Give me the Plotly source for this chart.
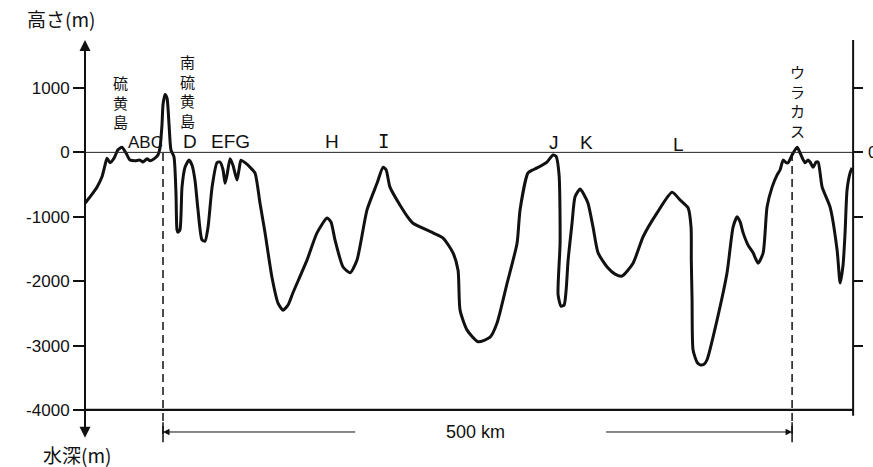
import plotly.graph_objects as go

# ---- data: horizontal distance (km, from left axis) and elevation (m) ----
dist_km = [0, 4.0, 9.5, 13.5, 15.9, 17.5, 19.9, 23.1, 26.2, 29.4,
           32.6, 35.8, 39.7, 43.7, 46.1, 49.3, 51.7, 55.6, 58.0, 59.6,
           61.2, 62.0, 63.6, 65.2, 66.8, 68.3, 70.7, 72.3, 73.1, 73.9,
           75.5, 77.1, 79.5, 82.7, 85.1, 87.4, 89.8, 93.0, 95.4, 97.8,
           101.0, 104.9, 107.3, 109.7, 111.3, 112.9, 115.3, 117.6, 120.8, 122.4,
           124.0, 127.2, 131.2, 135.1, 139.1, 143.1, 148.6, 153.4, 157.4, 161.4,
           165.3, 176.5, 184.4, 192.4, 195.5, 198.7, 205.1, 210.7, 216.2, 224.2,
           232.1, 236.9, 239.3, 242.4, 250.4, 258.3, 260.7, 276.6, 284.6, 292.5,
           296.5, 298.1, 303.7, 312.4, 322.0, 327.5, 335.5, 343.4, 345.8, 352.1,
           356.1, 359.3, 367.2, 372.0, 374.4, 376.8, 377.6, 376.0, 378.4, 380.8,
           382.4, 384.0, 387.1, 389.5, 393.5, 396.7, 399.8, 403.8, 407.8, 415.0,
           421.3, 426.9, 435.6, 443.6, 454.7, 466.6, 473.0, 479.3, 481.7, 481.9,
           482.5, 483.3, 486.5, 488.9, 492.0, 494.4, 502.4, 510.3, 515.1, 518.3,
           520.7, 523.1, 527.0, 531.0, 535.0, 539.0, 542.1, 546.1, 550.1, 552.5,
           554.9, 557.3, 558.8, 562.0, 566.0, 568.4, 572.3, 574.7, 576.3, 578.7,
           581.1, 582.7, 585.9, 592.2, 597.8, 600.2, 602.5, 604.1, 605.7, 608.1, 609.7]
elev_m = [-790, -690, -540, -380, -200, -90, -160, -90, 40, 80,
          -10, -120, -130, -120, -150, -100, -130, -90, -40, 70,
          430, 740, 900, 840, 430, 40, -70, -630, -1200, -1240,
          -1200, -540, -230, -120, -200, -430, -890, -1360, -1380, -1160,
          -540, -160, -150, -270, -480, -350, -100, -200, -430, -270,
          -120, -160, -230, -320, -790, -1250, -1940, -2340, -2450, -2370,
          -2180, -1670, -1250, -1020, -1080, -1360, -1780, -1870, -1670, -890,
          -480, -230, -270, -540, -820, -1050, -1100, -1250, -1330, -1560,
          -1830, -2450, -2760, -2940, -2870, -2650, -2030, -1410, -890, -320,
          -270, -240, -150, -40, -60, -350, -1410, -2210, -2390, -2370,
          -2140, -1670, -1100, -690, -570, -660, -790, -1160, -1560, -1780,
          -1890, -1920, -1720, -1310, -940, -620, -740, -860, -1160, -1670,
          -2290, -3070, -3260, -3300, -3290, -3220, -2600, -1870, -1160, -1000,
          -1080, -1250, -1440, -1560, -1720, -1560, -850, -540, -350, -270,
          -120, -160, -160, -40, 80, -10, -160, -120, -150, -230,
          -150, -150, -540, -850, -1520, -2030, -1750, -1250, -580, -320, -240]

tick_vals = [1000, 0, -1000, -2000, -3000, -4000]
tick_text = ["1000", "0", "-1000", "-2000", "-3000", "-4000"]
right_tick_vals = [1000, 0, -1000, -2000, -3000]

# letter labels (name, km, m)
letter_names = ["ABC", "D", "EFG", "H", "I", "J", "K", "L"]
letter_km = [47.7, 83.5, 115.3, 196.3, 236.9, 372.8, 398.3, 471.4]
letter_m = [160, 175, 175, 175, 175, 160, 160, 130]

# vertical island names (km position, centre elevation of the stacked label)
island_names = ["硫黄島", "南硫黄島", "ウラカス"]
island_km = [28.6, 81.1, 566.0]
island_mid_m = [783, 954, 798]

scale_start_km = 62.0   # 南硫黄島
scale_end_km = 562.0    # ウラカス
scale_label = "500 km"

X_MAX = 612
Y_MIN, Y_MAX = -4544, 1745

LAT = "Liberation Sans Narrow, Liberation Sans, Arial, sans-serif"
CJK = "Noto Sans CJK JP"

fig = go.Figure()
fig.add_trace(go.Scatter(x=dist_km, y=elev_m, mode="lines",
                         line=dict(color="#111111", width=3, shape="spline", smoothing=0.6),
                         hoverinfo="skip", showlegend=False))

shapes = []
# sea level line
shapes.append(dict(type="line", xref="x", yref="y", x0=0, x1=X_MAX, y0=0, y1=0,
                   line=dict(color="#222", width=1)))
# bottom base line at -4000
shapes.append(dict(type="line", xref="x", yref="y", x0=0, x1=610.5, y0=-4000, y1=-4000,
                   line=dict(color="#111", width=2.2)))
# right axis line
shapes.append(dict(type="line", xref="x", yref="y", x0=610.5, x1=610.5, y0=-4090, y1=Y_MAX,
                   line=dict(color="#111", width=2)))
# dashed verticals
for xk in [scale_start_km, scale_end_km]:
    shapes.append(dict(type="line", xref="x", yref="y", x0=xk, x1=xk, y0=-10, y1=-4380,
                       line=dict(color="#111", width=1.5, dash="8px,5px")))
    shapes.append(dict(type="line", xref="x", yref="y", x0=xk, x1=xk, y0=-4190, y1=-4500,
                       line=dict(color="#111", width=1.5)))

ann = []
# left axis with arrows
ann.append(dict(x=0, y=Y_MAX, ax=0, ay=-4300, xref="x", yref="y", axref="x", ayref="y",
                text="", showarrow=True, arrowhead=2, arrowsize=1.1, arrowwidth=2, arrowcolor="#111"))
ann.append(dict(x=0, y=-4430, ax=0, ay=-3000, xref="x", yref="y", axref="x", ayref="y",
                text="", showarrow=True, arrowhead=2, arrowsize=1.1, arrowwidth=2, arrowcolor="#111"))
# scale arrows
ann.append(dict(x=scale_start_km, y=-4342, ax=216, ay=-4342, xref="x", yref="y", axref="x", ayref="y",
                text="", showarrow=True, arrowhead=2, arrowsize=1.3, arrowwidth=1, arrowcolor="#111"))
ann.append(dict(x=scale_end_km, y=-4342, ax=413, ay=-4342, xref="x", yref="y", axref="x", ayref="y",
                text="", showarrow=True, arrowhead=2, arrowsize=1.3, arrowwidth=1, arrowcolor="#111"))
ann.append(dict(x=310, y=-4342, xref="x", yref="y", text=scale_label, showarrow=False,
                xanchor="center", yanchor="middle",
                font=dict(family=LAT, size=18, color="#111")))

# axis titles
ann.append(dict(x=-0.031, y=1.052, xref="paper", yref="paper", text="高さ(m)", showarrow=False,
                xanchor="center", yanchor="middle",
                font=dict(family=CJK, size=19, color="#111")))
ann.append(dict(x=-0.0104, y=-0.0235, xref="paper", yref="paper", text="水深(m)", showarrow=False,
                xanchor="center", yanchor="middle",
                font=dict(family=CJK, size=19, color="#111")))
# partially cut "0" at right edge
ann.append(dict(x=1.0143, y=0, xref="paper", yref="y", text="0", showarrow=False,
                xanchor="left", yanchor="middle",
                font=dict(family="Liberation Sans", size=17, color="#111")))

# letters
for name, xk, ym in zip(letter_names, letter_km, letter_m):
    fam = "DejaVu Sans Mono" if name == "I" else LAT
    size = 17 if name == "ABC" else 19
    ann.append(dict(x=xk, y=ym, xref="x", yref="y", text=name, showarrow=False,
                    xanchor="center", yanchor="middle",
                    font=dict(family=fam, size=size, color="#111")))

# vertical island names (stacked characters)
for name, xk, ym in zip(island_names, island_km, island_mid_m):
    ann.append(dict(x=xk, y=ym, xref="x", yref="y", text="<br>".join(name), showarrow=False,
                    xanchor="center", yanchor="middle",
                    font=dict(family=CJK, size=15, color="#111")))

fig.update_layout(
    width=873, height=467,
    margin=dict(l=85, r=873 - 85 - 770, t=40, b=22),
    paper_bgcolor="white", plot_bgcolor="white",
    xaxis=dict(range=[0, X_MAX], visible=False),
    yaxis=dict(range=[Y_MIN, Y_MAX], tickvals=tick_vals, ticktext=tick_text,
               ticks="outside", ticklen=11, tickwidth=1.5, tickcolor="#111",
               showline=False, zeroline=False, showgrid=False,
               tickfont=dict(family="Liberation Sans", size=17, color="#111")),
    yaxis2=dict(range=[Y_MIN, Y_MAX], overlaying="y", side="right", anchor="free", position=0.996,
                tickvals=right_tick_vals, ticks="outside", ticklen=10, tickwidth=1.5, tickcolor="#111",
                showticklabels=False, showline=False, zeroline=False, showgrid=False),
    shapes=shapes, annotations=ann,
)
# invisible trace to activate yaxis2
fig.add_trace(go.Scatter(x=[0], y=[0], yaxis="y2", mode="markers", marker=dict(opacity=0),
                         hoverinfo="skip", showlegend=False))

fig.write_html("out.html")
